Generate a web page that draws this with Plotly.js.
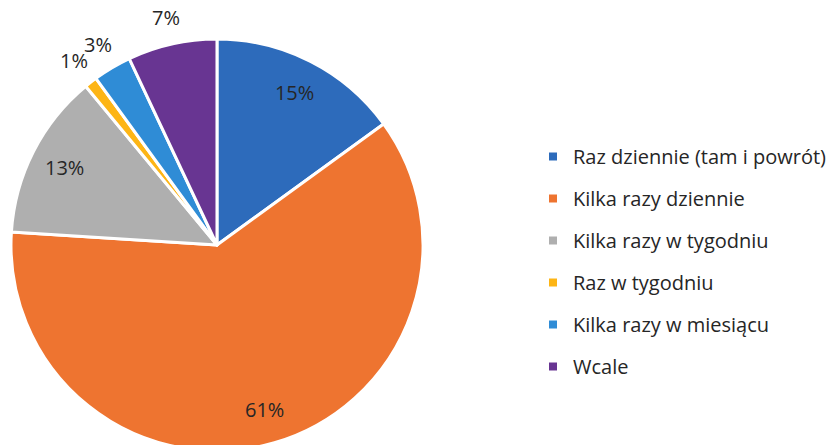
<!DOCTYPE html>
<html>
<head>
<meta charset="utf-8">
<script src="https://cdn.plot.ly/plotly-3.0.1.min.js"></script>
<style>
html,body{margin:0;padding:0;background:#fff;overflow:hidden;}
#chart{width:832px;height:460px;}
</style>
</head>
<body>
<div id="chart"></div>
<script>
const categories = [
  "Raz dziennie (tam i powrót)",
  "Kilka razy dziennie",
  "Kilka razy w tygodniu",
  "Raz w tygodniu",
  "Kilka razy w miesiącu",
  "Wcale"
];
const values = [15, 61, 13, 1, 3, 7];
const colors = ["#2D6BBB", "#EE7430", "#AFAFAF", "#FDB515", "#2F8CD6", "#683592"];
const labelInside = [true, true, true, false, false, false];

const W = 832, H = 460;
const dom = { x: [0.0132, 0.5084], y: [0.0196, 0.9152] };
const textColor = "#262626";
const fontFam = "Open Sans, sans-serif";

const total = values.reduce((a, b) => a + b, 0);
const pctText = values.map(v => Math.round(v / total * 100) + "%");

// main coloured pie
const pie = {
  type: "pie",
  labels: categories,
  values: values,
  sort: false,
  direction: "clockwise",
  rotation: 0,
  marker: { colors: colors, line: { color: "#ffffff", width: 3 } },
  textinfo: "none",
  showlegend: false,
  hoverinfo: "label+percent",
  domain: dom
};

// transparent ring carrying the inside labels (keeps them near the rim)
const ring = {
  type: "pie",
  labels: categories,
  values: values,
  sort: false,
  direction: "clockwise",
  rotation: 0,
  hole: 0.66,
  marker: { colors: values.map(() => "rgba(0,0,0,0)"), line: { width: 0 } },
  text: pctText.map((t, i) => labelInside[i] ? t : ""),
  textinfo: "text",
  textposition: "inside",
  insidetextorientation: "horizontal",
  textfont: { family: fontFam, size: 20, color: textColor },
  showlegend: false,
  hoverinfo: "skip",
  domain: dom
};

// outside labels for the small slices, placed along each slice's mid-angle
const cx = (dom.x[0] + dom.x[1]) / 2 * W;
const cy = H - (dom.y[0] + dom.y[1]) / 2 * H;
const R = Math.min((dom.x[1] - dom.x[0]) * W, (dom.y[1] - dom.y[0]) * H) / 2;
let cum = 0;
const annotations = [];
values.forEach((v, i) => {
  const mid = (cum + v / 2) / total * 2 * Math.PI;
  cum += v;
  if (labelInside[i]) return;
  const r = R + 27;
  const px = cx + r * Math.sin(mid);
  const py = cy - r * Math.cos(mid);
  annotations.push({
    xref: "paper", yref: "paper",
    x: px / W, y: 1 - py / H,
    xanchor: "center", yanchor: "middle",
    text: pctText[i], showarrow: false,
    font: { family: fontFam, size: 20, color: textColor }
  });
});

const legendTraces = categories.map((c, i) => ({
  type: "scatter",
  mode: "markers",
  x: [null], y: [null],
  name: c,
  legendgroup: "g" + i,
  marker: { symbol: "square", size: 8, color: colors[i] },
  showlegend: true,
  hoverinfo: "skip"
}));

const layout = {
  width: W,
  height: H,
  margin: { l: 0, r: 0, t: 0, b: 0 },
  paper_bgcolor: "#ffffff",
  plot_bgcolor: "#ffffff",
  xaxis: { visible: false },
  yaxis: { visible: false },
  showlegend: true,
  annotations: annotations,
  legend: {
    x: 533 / W, y: 1 - 137 / H, xanchor: "left", yanchor: "top",
    font: { family: fontFam, size: 20, color: textColor },
    tracegroupgap: 13,
    itemwidth: 30,
    traceorder: "grouped"
  }
};

Plotly.newPlot("chart", [pie, ring].concat(legendTraces), layout, { displayModeBar: false, staticPlot: true });
</script>
</body>
</html>
